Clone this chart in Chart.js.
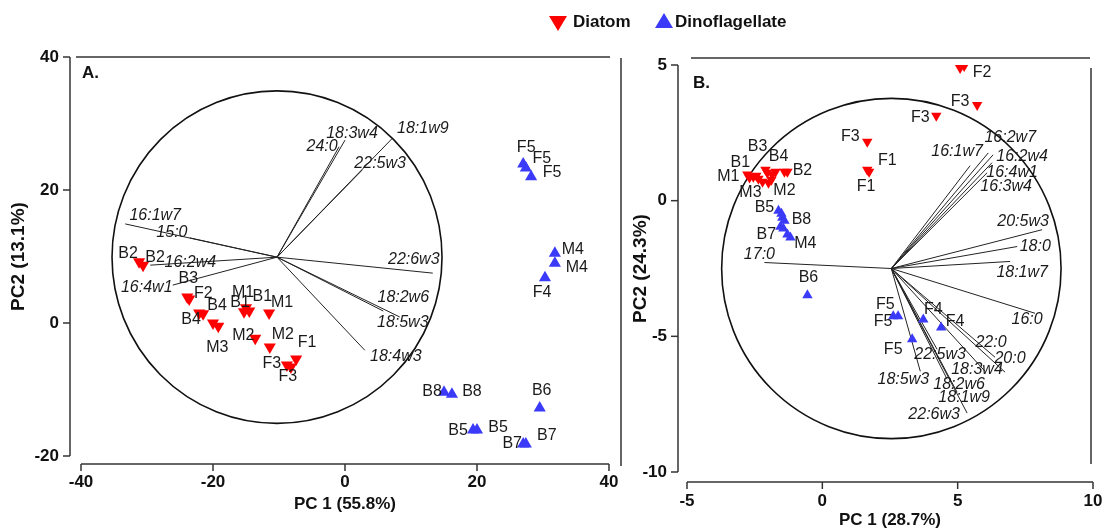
<!doctype html>
<html lang="en">
  <head>
    <meta charset="utf-8">
    <title>PCA biplots</title>
    <style>
      body { margin: 0; background: #fff; }
      #wrap { position: relative; width: 1109px; height: 532px; font-family: "Liberation Sans", Arial, sans-serif; }
      canvas { position: absolute; left: 0; top: 0; }
      .tri { position: absolute; width: 0; height: 0; border-left: 9px solid transparent; border-right: 9px solid transparent; }
      .leg { position: absolute; font-weight: bold; font-size: 17px; line-height: 18px; color: #111; }
    </style>
  </head>
  <body>
    <div id="wrap">
      <canvas id="chartA" width="1109" height="532"></canvas>
      <canvas id="chartB" width="1109" height="532"></canvas>
      <div class="tri" style="left:549px;top:16px;border-top:15px solid #ff0000;"></div>
      <div class="leg" style="left:573px;top:13px;">Diatom</div>
      <div class="tri" style="left:655px;top:13px;border-bottom:15px solid #3a3af8;"></div>
      <div class="leg" style="left:675px;top:13px;">Dinoflagellate</div>
    </div>
    <script src="https://cdn.jsdelivr.net/npm/chart.js@4.4.1/dist/chart.umd.min.js"></script>
    <script>
      // ---- panel A (PC1 55.8%, PC2 13.1%)
      const diatomA_names = ['B2','B2','B3','F2','B4','B4','M3','M3','M1','B1','B1','M1','M2','M2','F1','F3','F3'];
      const diatomA_x = [-31.2,-30.6,-23.9,-23.6,-22.1,-21.5,-20.0,-19.2,-15.0,-15.3,-14.5,-11.5,-13.6,-11.4,-7.4,-8.8,-8.2];
      const diatomA_y = [9.2,8.7,3.9,3.6,1.5,1.4,0.0,-0.5,2.3,1.7,1.8,1.5,-2.3,-3.6,-5.4,-6.3,-6.6];

      const dinoA_names = ['F5','F5','F5','M4','M4','F4','B8','B8','B6','B5','B5','B7','B7'];
      const dinoA_x = [27.0,27.4,28.2,31.8,31.8,30.3,15.0,16.2,29.5,19.4,20.0,27.0,27.4];
      const dinoA_y = [23.9,23.3,22.0,10.5,9.0,6.8,-10.4,-10.7,-12.8,-16.1,-16.1,-18.2,-18.2];

      const vecA_names = ['24:0','18:3w4','22:5w3','18:1w9','16:1w7','15:0','16:2w4','16:4w1','22:6w3','18:2w6','18:5w3','18:4w3'];
      const vecA_x = [-0.9,0.0,2.6,7.1,-33.3,-23.5,-29.5,-26.1,13.3,5.8,8.3,3.0];
      const vecA_y = [26.5,27.5,23.0,27.7,14.9,12.8,8.7,5.7,7.5,1.8,0.9,-4.1];
      const originA = [-10.3, 9.9];
      const radiusA = 25;

      // ---- panel B (PC1 28.7%, PC2 24.3%)
      const diatomB_names = ['M1','M1','B1','B1','M3','M3','B3','B3','M2','M2','B4','B4','B2','B2','F3','F1','F1','F2','F2','F3','F3'];
      const diatomB_x = [-2.77,-2.69,-2.55,-2.44,-2.36,-2.21,-2.10,-2.03,-1.99,-1.88,-1.73,-1.85,-1.40,-1.29,1.66,1.66,1.73,5.09,5.24,5.72,4.21];
      const diatomB_y = [0.96,0.85,0.88,0.92,0.81,0.70,1.14,1.03,0.66,0.77,1.07,0.96,1.07,1.07,2.17,1.14,1.07,4.89,4.96,3.53,3.13];

      const dinoB_names = ['B5','B5','B8','B8','B7','B7','M4','M4','B6','F5','F5','F5','F4','F4'];
      const dinoB_x = [-1.62,-1.51,-1.48,-1.40,-1.55,-1.44,-1.29,-1.18,-0.55,2.62,2.80,3.32,3.73,4.39];
      const dinoB_y = [-0.37,-0.48,-0.63,-0.74,-0.96,-1.03,-1.25,-1.36,-3.49,-4.26,-4.26,-5.11,-4.38,-4.67];

      const vecB_names = ['16:1w7','16:2w7','16:2w4','16:4w1','16:3w4','20:5w3','18:0','18:1w7','16:0','22:0','20:0','18:3w4','22:5w3','18:5w3','18:2w6','18:1w9','22:6w3','17:0'];
      const vecB_x = [5.46,6.13,6.31,6.27,6.09,8.12,7.20,6.94,7.86,6.38,6.75,6.01,4.24,3.62,4.61,4.98,5.35,-2.14];
      const vecB_y = [1.29,1.76,1.69,1.40,1.03,-1.07,-1.69,-2.24,-4.15,-5.77,-6.32,-6.29,-5.48,-6.29,-6.58,-7.06,-7.83,-2.28];
      const originB = [2.55, -2.5];
      const radiusB = 6.27;

      // label placement (pixel offsets from the mark, null = no label)
      const diatomA_lab = [[-11,-8],[12,-8],[1,-18],[14,-5],[-8,7],[14,-8],null,[-1,21],[-3,-15],[-4,-9],[13,-14],[13,-10],[-12,-3],[13,-12],[11,-16],[-15,-1],[-3,10]];
      const dinoA_lab = [[3,-16],[16,-9],[21,-4],[18,-4],[22,4],[-3,15],[-12,-1],[20,-3],[2,-18],[-15,1],[21,-2],[-11,0],[21,-8]];
      const vecA_lab = [[-17,0],[7,-7],[18,-7],[31,-10],[30,-8],[-18,-5],[40,-3],[-26,2],[-19,-14],[20,-13],[3,6],[31,6]];
      const diatomB_lab = [[-19,2],null,[-13,-14],null,[-8,14],null,[-8,-23],null,[16,8],null,[3,-15],null,null,[15,-1],[-17,-5],[20,-9],[-3,15],null,[18,7],[-17,-3],[-16,2]];
      const dinoB_lab = [[-14,-3],null,null,[17,-1],[-14,8],null,null,[15,6],[1,-18],[-8,-12],[-15,5],[-19,10],[10,-10],[14,-6]];
      const vecB_lab = [[-13,-14],[22,-15],[29,2],[20,10],[19,14],[-19,-8],[18,0],[12,11],[-8,6],[-4,-15],[5,-14],[-8,-2],[3,5],[-17,8],[12,5],[7,5],[-33,1],[-5,-8]];

      const RED = '#ff0000';
      const BLUE = '#3a3af8';
      const FONT = '"Liberation Sans", Arial, sans-serif';

      const pts = (xs, ys) => xs.map((v, i) => ({x: v, y: ys[i]}));

      const framePlugin = (f) => ({
        id: 'frame',
        afterDraw(chart) {
          const {ctx, chartArea: a, scales: {x, y}} = chart;
          const line = (x1, y1, x2, y2) => { ctx.beginPath(); ctx.moveTo(x1, y1); ctx.lineTo(x2, y2); ctx.stroke(); };
          ctx.save();
          ctx.strokeStyle = '#333';
          ctx.lineWidth = 1.5;
          const yx = a.left - f.yGap;
          line(yx, y.getPixelForValue(y.max), yx, y.getPixelForValue(y.min));
          y.ticks.forEach(t => { const p = y.getPixelForValue(t.value); line(yx - 7, p, yx, p); });
          const xy = a.bottom + f.xGap;
          line(x.getPixelForValue(x.min), xy, x.getPixelForValue(x.max), xy);
          x.ticks.forEach(t => { const p = x.getPixelForValue(t.value); line(p, xy, p, xy + 7); });
          line(a.left + f.topL, a.top + f.topDy, a.right + f.topR, a.top + f.topDy);
          line(a.right + f.rightDx, a.top + f.rTop, a.right + f.rightDx, a.bottom + f.rBot);
          ctx.fillStyle = '#111';
          ctx.font = 'bold 17px ' + FONT;
          ctx.textAlign = 'left';
          ctx.textBaseline = 'middle';
          ctx.fillText(f.letter, a.left + f.letterDx, a.top + f.letterDy);
          ctx.restore();
        }
      });

      const biplotPlugin = (b) => ({
        id: 'biplot',
        beforeDatasetsDraw(chart) {
          const {ctx, scales: {x, y}} = chart;
          const cx = x.getPixelForValue(b.origin[0]), cy = y.getPixelForValue(b.origin[1]);
          const rx = Math.abs(x.getPixelForValue(b.origin[0] + b.radius) - cx);
          const ry = Math.abs(y.getPixelForValue(b.origin[1] + b.radius) - cy);
          ctx.save();
          ctx.beginPath();
          ctx.ellipse(cx, cy, rx, ry, 0, 0, Math.PI * 2);
          ctx.lineWidth = 1.6;
          ctx.strokeStyle = '#111';
          ctx.stroke();
          ctx.restore();
        },
        afterDatasetsDraw(chart) {
          const {ctx, scales: {x, y}} = chart;
          ctx.save();
          ctx.fillStyle = '#1a1a1a';
          ctx.textAlign = 'center';
          ctx.textBaseline = 'middle';
          b.groups.forEach(g => {
            ctx.font = g.font;
            g.names.forEach((n, i) => {
              const off = g.offs[i];
              if (!off) return;
              ctx.fillText(n, x.getPixelForValue(g.xs[i]) + off[0], y.getPixelForValue(g.ys[i]) + off[1]);
            });
          });
          ctx.restore();
        }
      });

      function makeChart(id, c) {
        const vecSets = c.vx.map((v, i) => ({
          data: [{x: c.origin[0], y: c.origin[1]}, {x: v, y: c.vy[i]}],
          showLine: true, borderColor: '#222', borderWidth: 1, pointRadius: 0
        }));
        const tickFont = {family: FONT, weight: 'bold', size: 17};
        return new Chart(document.getElementById(id), {
          type: 'scatter',
          data: {
            datasets: [
              {label: 'Diatom', data: pts(c.dx, c.dy), pointStyle: 'triangle', pointRotation: 180,
               pointRadius: c.r, backgroundColor: RED, borderColor: RED, borderWidth: 0},
              {label: 'Dinoflagellate', data: pts(c.nx, c.ny), pointStyle: 'triangle',
               pointRadius: c.r, backgroundColor: BLUE, borderColor: BLUE, borderWidth: 0},
              ...vecSets
            ]
          },
          options: {
            responsive: false,
            animation: false,
            events: [],
            devicePixelRatio: 1,
            layout: {padding: c.padding},
            plugins: {legend: {display: false}, tooltip: {enabled: false}},
            scales: {
              x: {
                type: 'linear', min: c.xr[0], max: c.xr[1],
                ticks: {stepSize: c.xr[2], padding: 0, font: tickFont, color: '#111'},
                // invisible tick marks only push the labels down
                grid: {display: true, drawOnChartArea: false, drawTicks: true, tickLength: c.xPad, color: 'rgba(0,0,0,0)'},
                border: {display: false},
                title: {display: true, text: c.xTitle, color: '#111', font: {family: FONT, weight: 'bold', size: 17}, padding: {top: 0, bottom: 1}},
                afterFit: s => { s.height = 60; }
              },
              y: {
                type: 'linear', min: c.yr[0], max: c.yr[1],
                ticks: {stepSize: c.yr[2], padding: c.yPad, font: tickFont, color: '#111'},
                grid: {display: false, drawTicks: false}, border: {display: false},
                title: {display: true, text: c.yTitle, color: '#111', font: {family: FONT, weight: 'bold', size: 19}, padding: {top: c.yTitlePad, bottom: 0}},
                afterFit: s => { s.width = c.yW; }
              }
            }
          },
          plugins: [framePlugin(c.frame), biplotPlugin({
            origin: c.origin, radius: c.radius,
            groups: [
              {names: c.vn, xs: c.vx, ys: c.vy, offs: c.vl, font: 'italic 16px ' + FONT},
              {names: c.dn, xs: c.dx, ys: c.dy, offs: c.dl, font: '16px ' + FONT},
              {names: c.nn, xs: c.nx, ys: c.ny, offs: c.nl, font: '16px ' + FONT}
            ]
          })]
        });
      }

      makeChart('chartA', {
        dn: diatomA_names, dx: diatomA_x, dy: diatomA_y, dl: diatomA_lab,
        nn: dinoA_names, nx: dinoA_x, ny: dinoA_y, nl: dinoA_lab,
        vn: vecA_names, vx: vecA_x, vy: vecA_y, vl: vecA_lab,
        origin: originA, radius: radiusA, r: 7,
        xr: [-40, 40, 20], yr: [-20, 40, 20],
        xTitle: 'PC 1 (55.8%)', yTitle: 'PC2 (13.1%)',
        padding: {left: 0, top: 57, right: 500, bottom: 16},
        yW: 81, yPad: 22, xPad: 16, yTitlePad: 7,
        frame: {yGap: 11, xGap: 8, topDy: 0, topL: -5, topR: 1, rightDx: 12, rTop: 1, rBot: 10, letter: 'A.', letterDx: 1, letterDy: 16}
      });

      makeChart('chartB', {
        dn: diatomB_names, dx: diatomB_x, dy: diatomB_y, dl: diatomB_lab,
        nn: dinoB_names, nx: dinoB_x, ny: dinoB_y, nl: dinoB_lab,
        vn: vecB_names, vx: vecB_x, vy: vecB_y, vl: vecB_lab,
        origin: originB, radius: radiusB, r: 6,
        xr: [-5, 10, 5], yr: [-10, 5, 5],
        xTitle: 'PC 1 (28.7%)', yTitle: 'PC2 (24.3%)',
        padding: {left: 627, top: 65, right: 16, bottom: 0},
        yW: 60, yPad: 20, xPad: 19, yTitlePad: 2,
        frame: {yGap: 9, xGap: 10, topDy: -7, topL: 4, topR: -3, rightDx: -2, rTop: 3, rBot: -8, letter: 'B.', letterDx: 6, letterDy: 18}
      });
    </script>
  </body>
</html>
